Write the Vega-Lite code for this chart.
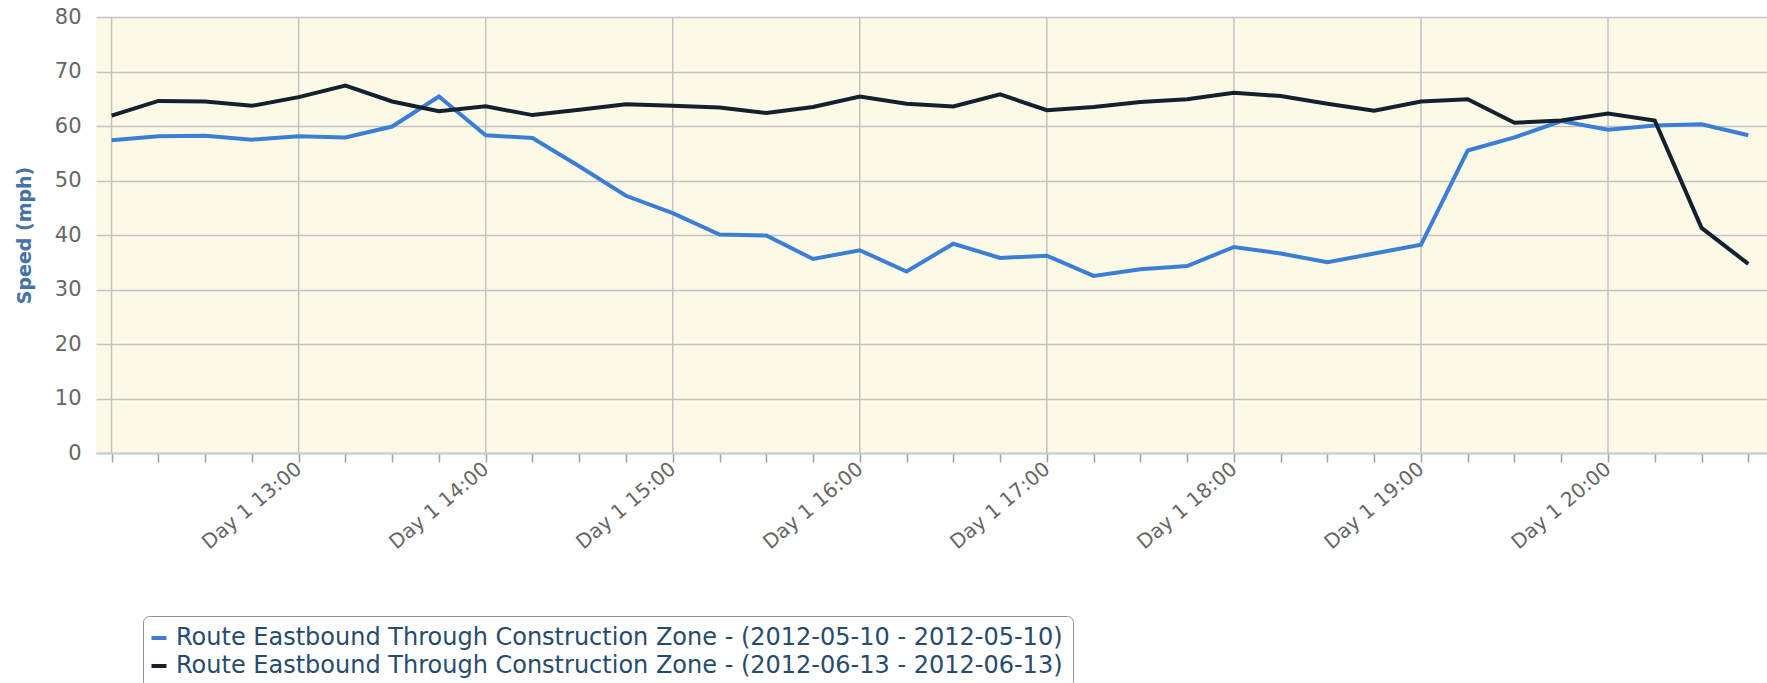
{
  "$schema": "https://vega.github.io/schema/vega-lite/v6.json",
  "width": 1671,
  "height": 436,
  "autosize": {"type": "none"},
  "padding": {"left": 96, "top": 17, "right": 0, "bottom": 230},
  "background": "white",
  "config": {"view": {"fill": "#fcfae7", "stroke": null}, "font": "DejaVu Sans"},
  "datasets": {
    "hours": [
      {"h": "2012-05-10T12:00"}, {"h": "2012-05-10T13:00"}, {"h": "2012-05-10T14:00"}, {"h": "2012-05-10T15:00"},
      {"h": "2012-05-10T16:00"}, {"h": "2012-05-10T17:00"}, {"h": "2012-05-10T18:00"}, {"h": "2012-05-10T19:00"},
      {"h": "2012-05-10T20:00"}
    ],
    "speeds": [
      {"t": "2012-05-10T12:00", "May": 57.4, "June": 61.9},
      {"t": "2012-05-10T12:15", "May": 58.1, "June": 64.6},
      {"t": "2012-05-10T12:30", "May": 58.2, "June": 64.5},
      {"t": "2012-05-10T12:45", "May": 57.5, "June": 63.7},
      {"t": "2012-05-10T13:00", "May": 58.1, "June": 65.3},
      {"t": "2012-05-10T13:15", "May": 57.9, "June": 67.4},
      {"t": "2012-05-10T13:30", "May": 59.9, "June": 64.5},
      {"t": "2012-05-10T13:45", "May": 65.4, "June": 62.7},
      {"t": "2012-05-10T14:00", "May": 58.3, "June": 63.6},
      {"t": "2012-05-10T14:15", "May": 57.8, "June": 62.0},
      {"t": "2012-05-10T14:30", "May": 52.6, "June": 63.0},
      {"t": "2012-05-10T14:45", "May": 47.2, "June": 64.0},
      {"t": "2012-05-10T15:00", "May": 44.0, "June": 63.7},
      {"t": "2012-05-10T15:15", "May": 40.1, "June": 63.4},
      {"t": "2012-05-10T15:30", "May": 39.9, "June": 62.4},
      {"t": "2012-05-10T15:45", "May": 35.6, "June": 63.5},
      {"t": "2012-05-10T16:00", "May": 37.2, "June": 65.4},
      {"t": "2012-05-10T16:15", "May": 33.3, "June": 64.1},
      {"t": "2012-05-10T16:30", "May": 38.4, "June": 63.6},
      {"t": "2012-05-10T16:45", "May": 35.8, "June": 65.8},
      {"t": "2012-05-10T17:00", "May": 36.2, "June": 62.9},
      {"t": "2012-05-10T17:15", "May": 32.5, "June": 63.5},
      {"t": "2012-05-10T17:30", "May": 33.7, "June": 64.4},
      {"t": "2012-05-10T17:45", "May": 34.3, "June": 64.9},
      {"t": "2012-05-10T18:00", "May": 37.8, "June": 66.1},
      {"t": "2012-05-10T18:15", "May": 36.6, "June": 65.5},
      {"t": "2012-05-10T18:30", "May": 35.0, "June": 64.1},
      {"t": "2012-05-10T18:45", "May": 36.6, "June": 62.8},
      {"t": "2012-05-10T19:00", "May": 38.2, "June": 64.5},
      {"t": "2012-05-10T19:15", "May": 55.5, "June": 64.9},
      {"t": "2012-05-10T19:30", "May": 57.9, "June": 60.6},
      {"t": "2012-05-10T19:45", "May": 60.9, "June": 61.0},
      {"t": "2012-05-10T20:00", "May": 59.3, "June": 62.3},
      {"t": "2012-05-10T20:15", "May": 60.1, "June": 61.0},
      {"t": "2012-05-10T20:30", "May": 60.3, "June": 41.3},
      {"t": "2012-05-10T20:45", "May": 58.3, "June": 34.7}
    ]
  },
  "layer": [
    {
      "data": {"name": "hours"},
      "mark": {"type": "rule", "color": "#c3c3c3", "strokeWidth": 1.5},
      "encoding": {
        "x": {"field": "h", "type": "temporal"}
      }
    },
    {
      "data": {"name": "speeds"},
      "transform": [
        {"fold": ["May", "June"], "as": ["series", "speed"]}
      ],
      "mark": {"type": "line", "strokeWidth": 4},
      "encoding": {
        "x": {"field": "t", "type": "temporal"},
        "y": {
          "field": "speed",
          "type": "quantitative",
          "scale": {"domain": [0, 80], "nice": false},
          "axis": {
            "title": "Speed (mph)",
            "titleFont": "DejaVu Sans",
            "titleFontSize": 19,
            "titleFontWeight": "bold",
            "titleColor": "#4572a7",
            "titlePadding": 20,
            "values": [0, 10, 20, 30, 40, 50, 60, 70, 80],
            "labelFont": "DejaVu Sans",
            "labelFontSize": 21,
            "labelColor": "#666666",
            "labelPadding": 15,
            "ticks": false,
            "domain": false,
            "grid": true,
            "gridColor": "#c3c3c3",
            "gridWidth": 1.5
          }
        },
        "color": {
          "field": "series",
          "type": "nominal",
          "scale": {"domain": ["May", "June"], "range": ["#3a7fd5", "#14202e"]},
          "legend": {
            "title": null,
            "orient": "none",
            "legendX": 47,
            "legendY": 599,
            "direction": "vertical",
            "symbolType": "stroke",
            "symbolStrokeWidth": 4,
            "symbolSize": 225,
            "symbolOffset": -6,
            "labelFont": "DejaVu Sans",
            "labelFontSize": 24,
            "labelColor": "#274b6d",
            "labelLimit": 4000,
            "labelOffset": 5,
            "labelExpr": "datum.label === 'May' ? 'Route Eastbound Through Construction Zone - (2012-05-10 - 2012-05-10)' : 'Route Eastbound Through Construction Zone - (2012-06-13 - 2012-06-13)'",
            "padding": 10,
            "rowPadding": 4,
            "strokeColor": "#909090",
            "cornerRadius": 6,
            "fillColor": "white"
          }
        }
      }
    }
  ],
  "encoding": {
    "x": {
      "type": "temporal",
      "scale": {
        "domain": [
          {"year": 2012, "month": 5, "date": 10, "hours": 11, "minutes": 55},
          {"year": 2012, "month": 5, "date": 10, "hours": 20, "minutes": 51}
        ],
        "nice": false
      },
      "axis": {
        "title": null,
        "values": [
          {"year": 2012, "month": 5, "date": 10, "hours": 12, "minutes": 0},
          {"year": 2012, "month": 5, "date": 10, "hours": 12, "minutes": 15},
          {"year": 2012, "month": 5, "date": 10, "hours": 12, "minutes": 30},
          {"year": 2012, "month": 5, "date": 10, "hours": 12, "minutes": 45},
          {"year": 2012, "month": 5, "date": 10, "hours": 13, "minutes": 0},
          {"year": 2012, "month": 5, "date": 10, "hours": 13, "minutes": 15},
          {"year": 2012, "month": 5, "date": 10, "hours": 13, "minutes": 30},
          {"year": 2012, "month": 5, "date": 10, "hours": 13, "minutes": 45},
          {"year": 2012, "month": 5, "date": 10, "hours": 14, "minutes": 0},
          {"year": 2012, "month": 5, "date": 10, "hours": 14, "minutes": 15},
          {"year": 2012, "month": 5, "date": 10, "hours": 14, "minutes": 30},
          {"year": 2012, "month": 5, "date": 10, "hours": 14, "minutes": 45},
          {"year": 2012, "month": 5, "date": 10, "hours": 15, "minutes": 0},
          {"year": 2012, "month": 5, "date": 10, "hours": 15, "minutes": 15},
          {"year": 2012, "month": 5, "date": 10, "hours": 15, "minutes": 30},
          {"year": 2012, "month": 5, "date": 10, "hours": 15, "minutes": 45},
          {"year": 2012, "month": 5, "date": 10, "hours": 16, "minutes": 0},
          {"year": 2012, "month": 5, "date": 10, "hours": 16, "minutes": 15},
          {"year": 2012, "month": 5, "date": 10, "hours": 16, "minutes": 30},
          {"year": 2012, "month": 5, "date": 10, "hours": 16, "minutes": 45},
          {"year": 2012, "month": 5, "date": 10, "hours": 17, "minutes": 0},
          {"year": 2012, "month": 5, "date": 10, "hours": 17, "minutes": 15},
          {"year": 2012, "month": 5, "date": 10, "hours": 17, "minutes": 30},
          {"year": 2012, "month": 5, "date": 10, "hours": 17, "minutes": 45},
          {"year": 2012, "month": 5, "date": 10, "hours": 18, "minutes": 0},
          {"year": 2012, "month": 5, "date": 10, "hours": 18, "minutes": 15},
          {"year": 2012, "month": 5, "date": 10, "hours": 18, "minutes": 30},
          {"year": 2012, "month": 5, "date": 10, "hours": 18, "minutes": 45},
          {"year": 2012, "month": 5, "date": 10, "hours": 19, "minutes": 0},
          {"year": 2012, "month": 5, "date": 10, "hours": 19, "minutes": 15},
          {"year": 2012, "month": 5, "date": 10, "hours": 19, "minutes": 30},
          {"year": 2012, "month": 5, "date": 10, "hours": 19, "minutes": 45},
          {"year": 2012, "month": 5, "date": 10, "hours": 20, "minutes": 0},
          {"year": 2012, "month": 5, "date": 10, "hours": 20, "minutes": 15},
          {"year": 2012, "month": 5, "date": 10, "hours": 20, "minutes": 30},
          {"year": 2012, "month": 5, "date": 10, "hours": 20, "minutes": 45}
        ],
        "labelExpr": "minutes(datum.value) === 0 && hours(datum.value) > 12 ? 'Day 1 ' + timeFormat(datum.value, '%H:%M') : ''",
        "labelAngle": -40,
        "labelAlign": "right",
        "labelBaseline": "middle",
        "labelFont": "DejaVu Sans",
        "labelFontSize": 20,
        "labelColor": "#666666",
        "labelPadding": 4,
        "labelOverlap": false,
        "labelFlush": false,
        "tickSize": 9,
        "tickColor": "#a0a0a0",
        "tickWidth": 1.5,
        "domainColor": "#c0d0e0",
        "domainWidth": 2,
        "grid": false
      }
    }
  }
}
